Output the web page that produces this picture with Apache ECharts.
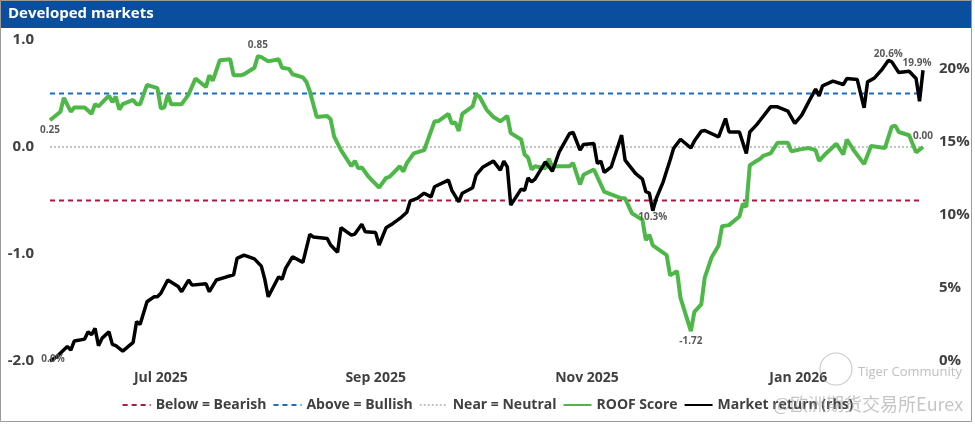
<!DOCTYPE html>
<html><head><meta charset="utf-8">
<script src="https://cdn.jsdelivr.net/npm/echarts@6/dist/echarts.min.js"></script>
<style>html,body{margin:0;padding:0;background:#fff}#c{width:975px;height:424px}</style>
</head><body><div id="c"></div><script>
const titleText = 'Developed markets';
const xStart = '2025-05-30';
const xEnd = '2026-02-06';
const xTickDates = ['2025-07-01', '2025-09-01', '2025-11-01', '2026-01-01'];
const xTickLabels = ['Jul 2025', 'Sep 2025', 'Nov 2025', 'Jan 2026'];
const bullLevel = 0.5, neutralLevel = 0, bearLevel = -0.5;
const legendNames = ['Below = Bearish', 'Above = Bullish', 'Near = Neutral', 'ROOF Score', 'Market return (rhs)'];

const roofDates = ['2025-05-30','2025-06-02','2025-06-03','2025-06-05','2025-06-06','2025-06-09','2025-06-11','2025-06-12','2025-06-13','2025-06-16','2025-06-17','2025-06-18','2025-06-19','2025-06-20','2025-06-23','2025-06-24','2025-06-25','2025-06-27','2025-06-30','2025-07-01','2025-07-02','2025-07-03','2025-07-04','2025-07-07','2025-07-09','2025-07-11','2025-07-14','2025-07-15','2025-07-16','2025-07-18','2025-07-21','2025-07-22','2025-07-24','2025-07-25','2025-07-28','2025-07-29','2025-07-30','2025-08-01','2025-08-04','2025-08-05','2025-08-07','2025-08-08','2025-08-11','2025-08-12','2025-08-13','2025-08-15','2025-08-18','2025-08-19','2025-08-20','2025-08-22','2025-08-25','2025-08-26','2025-08-27','2025-08-28','2025-08-30','2025-09-02','2025-09-04','2025-09-05','2025-09-08','2025-09-09','2025-09-10','2025-09-12','2025-09-15','2025-09-18','2025-09-19','2025-09-22','2025-09-23','2025-09-24','2025-09-25','2025-09-26','2025-09-29','2025-09-30','2025-10-01','2025-10-03','2025-10-05','2025-10-07','2025-10-09','2025-10-10','2025-10-13','2025-10-14','2025-10-15','2025-10-16','2025-10-17','2025-10-20','2025-10-21','2025-10-22','2025-10-23','2025-10-27','2025-10-28','2025-10-30','2025-10-31','2025-11-03','2025-11-06','2025-11-07','2025-11-11','2025-11-12','2025-11-14','2025-11-17','2025-11-18','2025-11-19','2025-11-20','2025-11-24','2025-11-25','2025-11-27','2025-11-28','2025-12-01','2025-12-02','2025-12-04','2025-12-05','2025-12-07','2025-12-09','2025-12-10','2025-12-12','2025-12-15','2025-12-16','2025-12-17','2025-12-18','2025-12-19','2025-12-21','2025-12-22','2025-12-24','2025-12-26','2025-12-29','2025-12-30','2026-01-02','2026-01-04','2026-01-06','2026-01-07','2026-01-09','2026-01-12','2026-01-14','2026-01-15','2026-01-17','2026-01-20','2026-01-22','2026-01-26','2026-01-28','2026-01-29','2026-01-30','2026-02-02','2026-02-04','2026-02-06'];
const roofValues = [0.25,0.33,0.46,0.33,0.37,0.37,0.31,0.40,0.38,0.48,0.42,0.47,0.35,0.40,0.44,0.40,0.40,0.58,0.55,0.36,0.37,0.49,0.40,0.40,0.49,0.64,0.56,0.67,0.62,0.81,0.82,0.67,0.67,0.68,0.74,0.85,0.84,0.80,0.82,0.74,0.73,0.68,0.65,0.61,0.52,0.28,0.29,0.26,0.10,-0.03,-0.18,-0.13,-0.20,-0.19,-0.28,-0.38,-0.29,-0.28,-0.18,-0.23,-0.15,-0.06,-0.03,0.24,0.24,0.31,0.22,0.23,0.15,0.31,0.38,0.49,0.47,0.35,0.28,0.24,0.29,0.13,0.07,-0.07,-0.10,-0.21,-0.18,-0.20,-0.11,-0.19,-0.18,-0.18,-0.15,-0.35,-0.26,-0.21,-0.42,-0.43,-0.48,-0.48,-0.62,-0.68,-0.87,-0.82,-0.92,-1.01,-1.20,-1.16,-1.41,-1.72,-1.54,-1.47,-1.22,-1.03,-0.92,-0.74,-0.73,-0.65,-0.53,-0.56,-0.17,-0.15,-0.11,-0.08,-0.06,0.04,0.04,-0.04,-0.02,-0.01,-0.03,-0.13,-0.06,0.03,-0.07,0.07,-0.03,-0.16,0.01,-0.01,0.19,0.20,0.14,0.11,-0.05,0.00];
const roofLabelDates = ['2025-05-30', '2025-07-29', '2025-12-01', '2026-02-06'];

const mktDates = ['2025-05-30','2025-06-01','2025-06-04','2025-06-05','2025-06-06','2025-06-09','2025-06-10','2025-06-11','2025-06-12','2025-06-13','2025-06-14','2025-06-16','2025-06-17','2025-06-18','2025-06-20','2025-06-23','2025-06-24','2025-06-25','2025-06-27','2025-06-29','2025-06-30','2025-07-01','2025-07-03','2025-07-06','2025-07-07','2025-07-09','2025-07-10','2025-07-14','2025-07-15','2025-07-17','2025-07-20','2025-07-22','2025-07-23','2025-07-25','2025-07-28','2025-07-30','2025-07-31','2025-08-01','2025-08-04','2025-08-05','2025-08-06','2025-08-08','2025-08-11','2025-08-13','2025-08-14','2025-08-18','2025-08-19','2025-08-21','2025-08-22','2025-08-25','2025-08-26','2025-08-28','2025-08-29','2025-09-01','2025-09-02','2025-09-04','2025-09-06','2025-09-08','2025-09-10','2025-09-11','2025-09-13','2025-09-15','2025-09-17','2025-09-18','2025-09-22','2025-09-23','2025-09-25','2025-09-26','2025-09-29','2025-09-30','2025-10-02','2025-10-05','2025-10-07','2025-10-08','2025-10-09','2025-10-10','2025-10-13','2025-10-14','2025-10-15','2025-10-16','2025-10-17','2025-10-20','2025-10-22','2025-10-24','2025-10-27','2025-10-28','2025-10-30','2025-10-31','2025-11-03','2025-11-04','2025-11-05','2025-11-06','2025-11-08','2025-11-11','2025-11-12','2025-11-15','2025-11-17','2025-11-18','2025-11-19','2025-11-20','2025-11-21','2025-11-23','2025-11-25','2025-11-26','2025-11-28','2025-12-01','2025-12-02','2025-12-04','2025-12-05','2025-12-09','2025-12-11','2025-12-12','2025-12-15','2025-12-17','2025-12-18','2025-12-20','2025-12-21','2025-12-24','2025-12-26','2025-12-29','2025-12-31','2026-01-02','2026-01-04','2026-01-06','2026-01-07','2026-01-08','2026-01-11','2026-01-14','2026-01-15','2026-01-18','2026-01-20','2026-01-21','2026-01-23','2026-01-25','2026-01-27','2026-01-28','2026-01-30','2026-02-02','2026-02-04','2026-02-05','2026-02-06'];
const mktValues = [0.0,0.3,1.0,0.75,1.37,1.5,2.0,1.8,2.24,1.05,1.55,2.0,1.14,1.05,0.68,1.28,2.7,2.5,4.06,4.4,4.4,4.64,5.55,5.1,4.75,5.55,5.2,5.3,4.75,5.55,5.77,5.9,7.03,7.26,7.0,6.5,5.6,4.4,5.77,5.6,6.35,7.14,6.76,8.68,8.5,8.4,7.95,7.45,9.13,8.63,8.7,9.38,8.86,8.8,7.95,9.13,9.43,9.77,10.2,10.98,11.14,11.5,11.25,11.94,12.4,11.7,10.9,11.5,11.87,12.74,13.3,13.7,13.08,13.7,13.3,10.68,11.78,11.7,12.55,12.28,12.47,13.65,13.0,14.34,15.6,15.66,14.45,14.84,14.9,13.54,13.7,12.92,13.3,15.48,13.77,12.86,12.47,11.6,11.5,10.3,11.14,12.28,13.77,14.57,15.2,14.6,15.07,15.75,15.8,15.36,16.62,15.7,15.7,14.23,15.7,16.2,16.5,17.42,17.42,17.12,16.28,16.85,17.76,18.63,18.17,18.86,19.18,18.95,19.36,19.3,17.35,19.13,19.4,19.93,20.6,20.5,19.77,19.86,19.36,17.8,19.93];
const mktLabelDates = ['2025-05-30', '2026-01-27', '2025-11-20', '2026-02-06'];

const FONT = 'Open Sans, sans-serif';
const LABEL_STYLE = {fontSize: 10, color: '#5a5a5a', fontWeight: 'bold', fontFamily: FONT};
const ts = s => +echarts.time.parse(s);
function buildMarks(dates, vals, labelDates, fmt, placements) {
  return labelDates.map((d, j) => {
    const i = dates.indexOf(d);
    return {
      coord: [ts(dates[i]), vals[i]], value: vals[i],
      label: Object.assign({show: true, formatter: fmt(vals[i])}, LABEL_STYLE, placements[j])
    };
  });
}
const roofPlacements = [
  {position: 'bottom', distance: 4},
  {position: 'top', distance: 5},
  {position: 'bottom', distance: 5},
  {position: 'top', distance: 5}
];
const mktPlacements = [
  {position: 'inside', offset: [3, -2]},
  {position: 'top', distance: 1},
  {position: 'bottom', distance: 1},
  {position: 'top', distance: 2, offset: [-6, 0]}
];

const roofData = roofDates.map((d, i) => [ts(d), roofValues[i]]);
const mktData = mktDates.map((d, i) => [ts(d), mktValues[i]]);
const roofMarks = buildMarks(roofDates, roofValues, roofLabelDates, v => v.toFixed(2), roofPlacements);
const mktMarks = buildMarks(mktDates, mktValues, mktLabelDates, v => v.toFixed(1) + '%', mktPlacements);
const tickTs = xTickDates.map(ts);

function markPointOf(data) {
  return {symbol: 'circle', symbolSize: 1, itemStyle: {color: 'rgba(0,0,0,0)'}, silent: true, animation: false, data};
}
function refLine(name, level, color, type) {
  return {
    name, type: 'line', yAxisIndex: 0, symbol: 'none', silent: true,
    data: [[ts(xStart), level], [ts(xEnd), level]],
    lineStyle: {color, width: 2, type},
    itemStyle: {color}, z: 1
  };
}

const chart = echarts.init(document.getElementById('c'));
chart.setOption({
  animation: false,
  backgroundColor: '#ffffff',
  textStyle: {fontFamily: FONT},
  grid: {left: 50, right: 52, top: 40, bottom: 63, containLabel: false, outerBoundsMode: 'none'},
  legend: {
    data: legendNames, bottom: 7, left: 'center', itemWidth: 28, itemHeight: 10, itemGap: 6,
    itemStyle: {opacity: 0},
    textStyle: {fontSize: 14, fontWeight: 'bold', color: '#404040', fontFamily: FONT}
  },
  xAxis: {
    type: 'value', min: ts(xStart), max: ts(xEnd),
    axisLine: {show: false}, axisTick: {show: false}, splitLine: {show: false},
    axisLabel: {
      customValues: tickTs, margin: 10,
      fontSize: 14, fontWeight: 'bold', color: '#404040', fontFamily: FONT,
      formatter: v => { const k = tickTs.indexOf(+v); return k >= 0 ? xTickLabels[k] : ''; }
    }
  },
  yAxis: [
    {type: 'value', min: -2, max: 1, interval: 1, axisLine: {show: false}, axisTick: {show: false}, splitLine: {show: false},
     axisLabel: {fontSize: 15, fontWeight: 'bold', color: '#404040', margin: 16, fontFamily: FONT, formatter: v => v.toFixed(1)}},
    {type: 'value', min: 0, max: 22, interval: 5, axisLine: {show: false}, axisTick: {show: false}, splitLine: {show: false},
     axisLabel: {fontSize: 15, fontWeight: 'bold', color: '#404040', margin: 16, fontFamily: FONT, showMaxLabel: false,
       formatter: v => (v % 5 === 0 ? v + '%' : '')}}
  ],
  series: [
    refLine(legendNames[0], bearLevel, '#b0183f', [5, 4]),
    refLine(legendNames[1], bullLevel, '#1c6cc4', [5, 4]),
    refLine(legendNames[2], neutralLevel, '#c4c4c4', [2, 2]),
    {name: legendNames[3], type: 'line', yAxisIndex: 0, symbol: 'none', data: roofData,
     lineStyle: {color: '#4db848', width: 4}, itemStyle: {color: '#4db848'}, z: 3, markPoint: markPointOf(roofMarks)},
    {name: legendNames[4], type: 'line', yAxisIndex: 1, symbol: 'none', data: mktData,
     lineStyle: {color: '#000000', width: 3.5}, itemStyle: {color: '#000000'}, z: 4, markPoint: markPointOf(mktMarks)}
  ],
  graphic: [
    {type: 'rect', shape: {x: 0, y: 0, width: 972, height: 28}, style: {fill: '#0a4f9e'}, z: 100},
    {type: 'text', x: 8, y: 14, style: {text: titleText, fill: '#ffffff', font: 'bold 15px ' + FONT, textVerticalAlign: 'middle'}, z: 101},
    {type: 'rect', shape: {x: 0.5, y: 0.5, width: 971, height: 421}, style: {fill: 'none', stroke: '#9a9a9a', lineWidth: 1}, z: 102},
    {type: 'circle', shape: {cx: 836, cy: 369, r: 16}, style: {fill: 'none', stroke: 'rgba(170,170,170,0.6)', lineWidth: 1.2}, z: 103},
    {type: 'text', x: 858, y: 372, style: {text: 'Tiger Community', fill: 'rgba(170,170,170,0.75)', font: '13px ' + FONT, textVerticalAlign: 'middle'}, z: 103},
    {type: 'text', x: 773, y: 404, style: {text: '@欧洲期货交易所Eurex', fill: 'rgba(150,150,150,0.55)', font: '18px "Noto Sans CJK SC", sans-serif', textVerticalAlign: 'middle'}, z: 103}
  ]
});
</script></body></html>
